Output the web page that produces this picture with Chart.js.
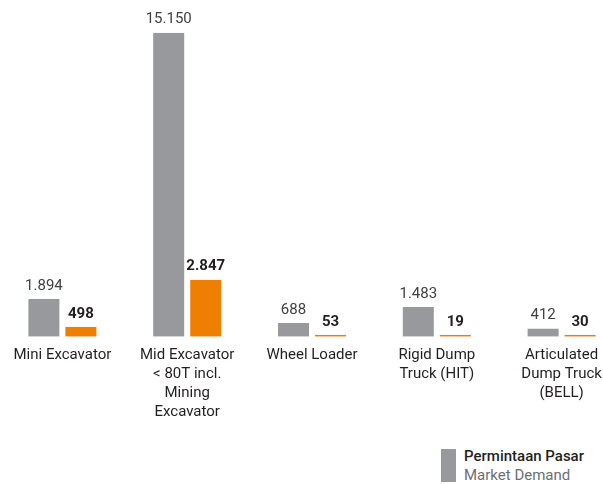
<!DOCTYPE html>
<html>
<head>
<meta charset="utf-8">
<script src="https://cdn.jsdelivr.net/npm/chart.js@4"></script>
<style>
  body { margin: 0; width: 603px; height: 484px; overflow: hidden; background: #fff; position: relative; font-family: Roboto, sans-serif; }
  #wrap { position: absolute; left: 0; top: 0; width: 624px; height: 423px; }
  #legenda { position: absolute; left: 441px; top: 449px; }
  #legenda .kotak { position: absolute; left: 0; top: 0; width: 15px; height: 33px; background: #97999c; }
  #legenda .t1 { position: absolute; left: 23px; top: -2px; white-space: nowrap; font-size: 15px; font-weight: 500; color: #231f20; }
  #legenda .t2 { position: absolute; left: 23px; top: 17px; white-space: nowrap; font-size: 15px; color: #6d6e71; }
</style>
</head>
<body>
<div id="wrap"><canvas id="myChart"></canvas></div>
<div id="legenda">
  <div class="kotak"></div>
  <div class="t1">Permintaan Pasar</div>
  <div class="t2">Market Demand</div>
</div>
<script>
var kategori = [
  'Mini Excavator',
  ['Mid Excavator', '< 80T incl.', 'Mining', 'Excavator'],
  'Wheel Loader',
  ['Rigid Dump', 'Truck (HIT)'],
  ['Articulated', 'Dump Truck', '(BELL)']
];
var permintaanPasar = [1894, 15150, 688, 1483, 412];
var penjualan = [498, 2847, 53, 19, 30];

function formatAngka(n){
  return String(n).replace(/\B(?=(\d{3})+(?!\d))/g, '.');
}

// tulis angka di atas setiap batang
var labelNilai = {
  id: 'labelNilai',
  afterDatasetsDraw: function(chart){
    var ctx = chart.ctx;
    ctx.save();
    ctx.textAlign = 'center';
    ctx.textBaseline = 'middle';
    chart.data.datasets.forEach(function(ds, i){
      var meta = chart.getDatasetMeta(i);
      meta.data.forEach(function(bar, j){
        ctx.font = (i == 1 ? 'bold ' : '') + '15px Roboto';
        ctx.fillStyle = i == 1 ? '#231f20' : '#414042';
        ctx.fillText(formatAngka(ds.data[j]), bar.x, bar.y - 13);
      });
    });
    ctx.restore();
  }
};

var chartdata = {
  labels: kategori,
  datasets: [{
    label: 'Permintaan Pasar',
    backgroundColor: '#97999c',
    borderColor: 'rgba(0,0,0,0)',
    borderWidth: {left: 3, right: 3, top: 0, bottom: 0},
    borderSkipped: false,
    data: permintaanPasar
  }, {
    label: 'Penjualan',
    backgroundColor: '#ef7f00',
    borderColor: 'rgba(0,0,0,0)',
    borderWidth: {left: 3, right: 3, top: 0, bottom: 0},
    borderSkipped: false,
    minBarLength: 2,
    data: penjualan
  }]
};

var graficar = document.getElementById('myChart').getContext('2d');
var grafico = new Chart(graficar, {
  type: 'bar',
  data: chartdata,
  plugins: [labelNilai],
  options: {
    responsive: true,
    maintainAspectRatio: false,
    animation: false,
    barPercentage: 1,
    categoryPercentage: 0.593,
    layout: { padding: 0 },
    plugins: {
      legend: { display: false },
      tooltip: { enabled: false }
    },
    scales: {
      x: {
        grid: { display: false },
        border: { display: false },
        ticks: {
          padding: 1,
          maxRotation: 0,
          autoSkip: false,
          color: '#231f20',
          font: { family: 'Roboto', size: 15, lineHeight: 1.27 }
        }
      },
      y: {
        display: false,
        min: 0,
        max: 16778
      }
    }
  }
});
</script>
</body>
</html>
